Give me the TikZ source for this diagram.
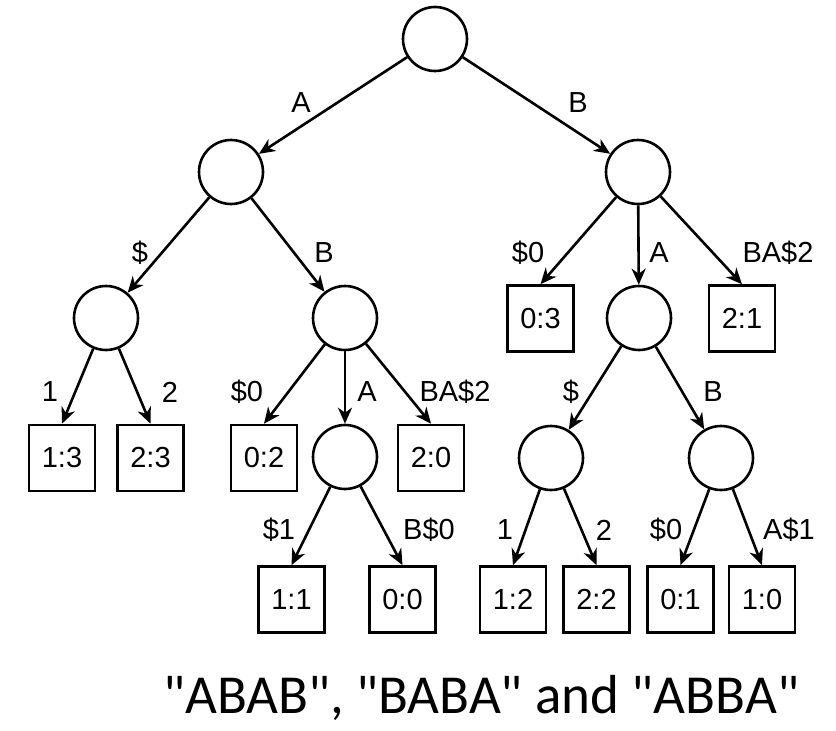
\documentclass[tikz,border=0pt]{standalone}
\usepackage{fontspec}
\setmainfont{Liberation Sans}
\newfontfamily\captionfont{Carlito}
\usetikzlibrary{arrows.meta}
\begin{document}
\begin{tikzpicture}[x=1pt,y=-1pt,
  inner/.style={circle,draw,line width=2.6pt,minimum size=64pt,inner sep=0pt},
  leaf/.style={rectangle,draw,line width=2.6pt,minimum size=66pt,inner sep=0pt,
    font=\fontsize{29}{33}\selectfont},
  lbl/.style={inner sep=0pt,font=\fontsize{29}{33}\selectfont},
  edge/.style={line width=2.6pt,-{Stealth[length=16pt,width=14pt,inset=5pt]}}]
\useasboundingbox (0,0) rectangle (836,731);
% internal nodes
\node[inner] (root) at (435,39) {};
\node[inner] (nA) at (231,172) {};
\node[inner] (nB) at (638,172) {};
\node[inner] (nAS) at (106,318) {};
\node[inner] (nAB) at (345,318) {};
\node[inner] (nBA) at (639,318) {};
\node[inner] (nABA) at (345,457) {};
\node[inner] (nBAS) at (551,458) {};
\node[inner] (nBAB) at (721,458) {};
% leaves
\node[leaf] (l03) at (540.5,318.5) {0:3};
\node[leaf] (l21) at (742,318.5) {2:1};
\node[leaf] (l13) at (62,458) {1:3};
\node[leaf] (l23) at (150.5,458) {2:3};
\node[leaf] (l02) at (264,458) {0:2};
\node[leaf] (l20) at (431,458) {2:0};
\node[leaf] (l11) at (291.5,599.5) {1:1};
\node[leaf] (l00) at (402.5,599.5) {0:0};
\node[leaf] (l12) at (513,599.5) {1:2};
\node[leaf] (l22) at (596.5,599.5) {2:2};
\node[leaf] (l01) at (680.5,599.5) {0:1};
\node[leaf] (l10) at (762,599.5) {1:0};
% edges
\draw[edge] (root) -- (nA);
\draw[edge] (root) -- (nB);
\draw[edge] (nA) -- (nAS);
\draw[edge] (nA) -- (nAB);
\draw[edge] (nAS) -- (l13.north);
\draw[edge] (nAS) -- (l23.north);
\draw[edge] (nAB) -- (l02.north);
\draw[edge] (nAB) -- (nABA);
\draw[edge] (nAB) -- (l20.north);
\draw[edge] (nABA) -- (l11.north);
\draw[edge] (nABA) -- (l00.north);
\draw[edge] (nB) -- (l03.north);
\draw[edge] (nB) -- (nBA);
\draw[edge] (nB) -- (l21.north);
\draw[edge] (nBA) -- (nBAS);
\draw[edge] (nBA) -- (nBAB);
\draw[edge] (nBAS) -- (l12.north);
\draw[edge] (nBAS) -- (l22.north);
\draw[edge] (nBAB) -- (l01.north);
\draw[edge] (nBAB) -- (l10.north);
% edge labels
\node[lbl] (tA) at (301,103) {A};
\node[lbl] (tB) at (578,103) {B};
\node[lbl] (tAS) at (140,253) {\$};
\node[lbl] (tAB) at (324,253) {B};
\node[lbl] (tB0) at (528,253) {\$0};
\node[lbl] (tBA) at (659,253) {A};
\node[lbl] (tB2) at (778,253) {BA\$2};
\node[lbl] (t1a) at (50,392) {1};
\node[lbl] (t2a) at (170,392) {2};
\node[lbl] (tAB0) at (247,392) {\$0};
\node[lbl] (tABA) at (367,392) {A};
\node[lbl] (tAB2) at (455,392) {BA\$2};
\node[lbl] (tBAS) at (571,392) {\$};
\node[lbl] (tBAB) at (713,392) {B};
\node[lbl] (t1s) at (279,530) {\$1};
\node[lbl] (tB0s) at (429,530) {B\$0};
\node[lbl] (t1b) at (505,530) {1};
\node[lbl] (t2b) at (604,530) {2};
\node[lbl] (t0b) at (666,530) {\$0};
\node[lbl] (tA1) at (789,530) {A\$1};
% caption
\node[inner sep=0pt,anchor=base,font=\captionfont\fontsize{55}{60}\selectfont] (cap) at (481,713) {"ABAB", "BABA" and "ABBA"};
\end{tikzpicture}
\end{document}
